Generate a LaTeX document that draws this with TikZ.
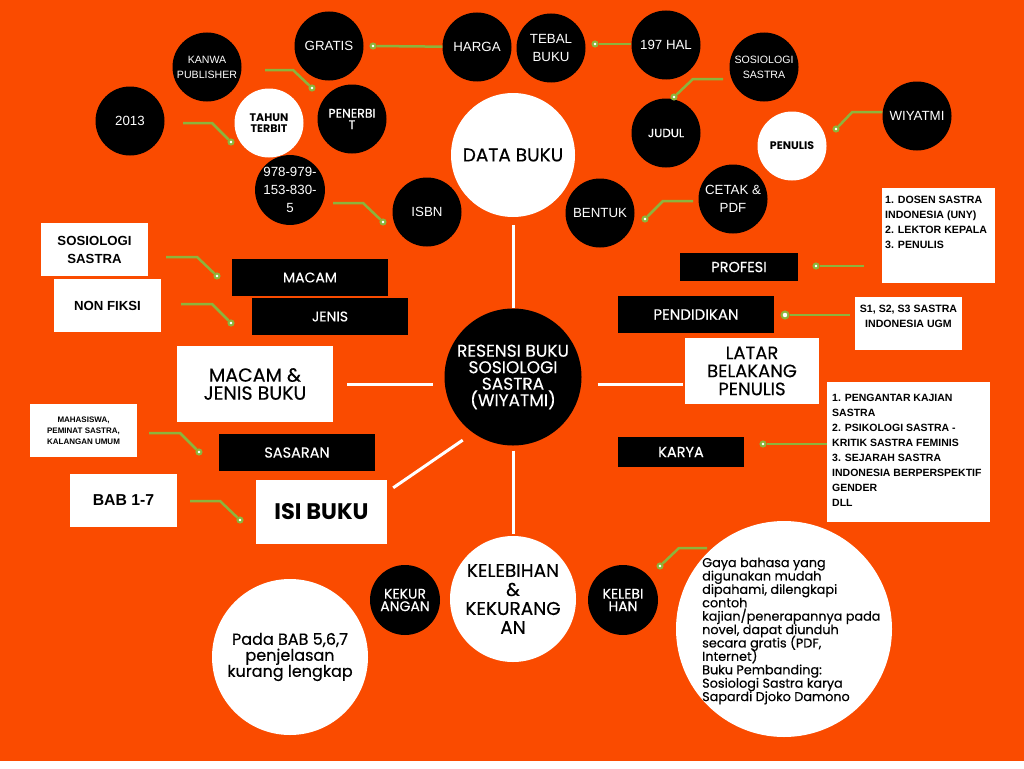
\documentclass[tikz,border=0pt]{standalone}
\usepackage{fontspec}
\newfontfamily\geo[FakeBold=0.35]{Poppins}
\newfontfamily\geob{Poppins}
\newfontfamily\ari{Liberation Sans}
\newcommand{\fsz}[2]{\fontsize{#1}{#2}\selectfont\lineskiplimit=-50pt}
\definecolor{bg}{RGB}{250,75,0}
\definecolor{leaf}{RGB}{140,180,60}

\begin{document}
\begin{tikzpicture}[
    x=1pt, y=-1pt,
    bc/.style={circle, fill=black, text=white, minimum size=69pt, inner sep=0pt, align=center},
    wc/.style={circle, fill=white, text=black, minimum size=69pt, inner sep=0pt, align=center},
    bb/.style={rectangle, fill=black, text=white, inner sep=0pt, align=center},
    wb/.style={rectangle, fill=white, text=black, inner sep=0pt, align=center},
    wire/.style={draw=leaf, line width=2.5pt},
    dot/.style={circle, draw=leaf, fill=white, line width=2pt, minimum size=5pt, inner sep=0pt},
    spoke/.style={draw=white, line width=3pt}
  ]
  \fill[white] (0,0) rectangle (1024,768);
  \fill[bg] (0,0) rectangle (1024,761);

  % centre and the four main topics
  \node[bc, minimum size=137pt, font=\geo\fsz{17}{16.5}] (R) at (513,377) {RESENSI BUKU\\SOSIOLOGI\\SASTRA\\(WIYATMI)};
  \node[wc, minimum size=124pt, font=\geo\fsz{18.5}{19}] (D) at (513,155) {DATA BUKU};
  \node[wc, minimum size=126pt, font=\geo\fsz{18.5}{19}] (KK) at (513,599) {KELEBIHAN\\\&\\KEKURANG\\AN};
  \node[wb, minimum width=156pt, minimum height=76pt, font=\geo\fsz{19}{18}] (MJ) at (255,384) {MACAM \&\\JENIS BUKU};
  \node[wb, minimum width=131pt, minimum height=64pt, font=\geob\bfseries\fsz{22.5}{22}] (IB) at (321.5,512) {ISI BUKU};
  \node[wb, minimum width=134pt, minimum height=66pt, font=\geo\fsz{18}{18}] (LB) at (752,371) {LATAR\\BELAKANG\\PENULIS};

  \draw[spoke] ([yshift=-8pt]D.south) -- (R.north);
  \draw[spoke] ([yshift=-5pt]R.south) -- ([yshift=2pt]KK.north);
  \draw[spoke] ([xshift=14pt]MJ.east) -- ++(86,0);
  \draw[spoke] ([shift={(16,7)}]R.east) -- ++(85,0);
  \draw[spoke] ([shift={(-8,9)}]R.232) -- ([shift={(6,8)}]IB.north east);

  % data buku
  \node[bc, font=\ari\fsz{13.3}{16}] (G) at (329,46) {GRATIS};
  \node[bc, font=\ari\fsz{13.3}{16}] (H) at (477,47) {HARGA};
  \node[bc, font=\ari\fsz{13.3}{18}] (TB) at (551,48) {TEBAL\\BUKU};
  \node[bc, font=\ari\fsz{13.3}{16}] (HL) at (666,45) {197 HAL};
  \node[bc, font=\ari\fsz{10.6}{15}] (KW) at (207,67) {KANWA\\PUBLISHER};
  \node[bc, font=\ari\fsz{13.3}{16}] (Y) at (130,121) {2013};
  \node[wc, font=\geob\bfseries\fsz{11}{11.5}] (TT) at (269,123) {TAHUN\\TERBIT};
  \node[bc, font=\geo\fsz{12.5}{11.5}] (PB) at (352,119) {PENERBI\\T};
  \node[bc, font=\ari\fsz{13.3}{18}] (NO) at (290,190) {978-979-\\153-830-\\5};
  \node[bc, font=\ari\fsz{13.3}{16}] (IS) at (427,212) {ISBN};
  \node[bc, font=\geo\fsz{12}{12}] (J) at (666,133) {JUDUL};
  \node[bc, font=\ari\fsz{10.6}{15}] (SJ) at (764,67) {SOSIOLOGI\\SASTRA};
  \node[wc, font=\geob\bfseries\fsz{11}{12}] (PN) at (792,146) {PENULIS};
  \node[bc, font=\ari\fsz{13.3}{16}] (W) at (917,116) {WIYATMI};
  \node[bc, font=\ari\fsz{13.3}{18}] (C) at (733,199) {CETAK \&\\PDF};
  \node[bc, font=\ari\fsz{13.3}{16}] (BT) at (600,213) {BENTUK};

  % macam, jenis, sasaran, isi
  \node[wb, minimum width=107pt, minimum height=53pt, font=\ari\bfseries\fsz{13.2}{18}] (SS) at (94.5,249.5) {SOSIOLOGI\\SASTRA};
  \node[wb, minimum width=107pt, minimum height=53pt, font=\ari\bfseries\fsz{13.2}{18}] (NF) at (107.5,305.5) {NON FIKSI};
  \node[bb, minimum width=156pt, minimum height=37pt, font=\geo\fsz{14}{15}] (MC) at (310,277.5) {MACAM};
  \node[bb, minimum width=156pt, minimum height=37pt, font=\geo\fsz{14}{15}] (JN) at (330,316.5) {JENIS};
  \node[wb, minimum width=107pt, minimum height=53pt, font=\ari\bfseries\fsz{8}{11}] (MH) at (83.5,430.5) {MAHASISWA,\\PEMINAT SASTRA,\\KALANGAN UMUM};
  \node[bb, minimum width=156pt, minimum height=37pt, font=\geo\fsz{14.5}{15}] (SR) at (297,452.5) {SASARAN};
  \node[wb, minimum width=107pt, minimum height=53pt, font=\ari\bfseries\fsz{15.8}{18}] (BB) at (123.5,500.5) {BAB 1-7};

  % latar belakang penulis
  \node[bb, minimum width=118pt, minimum height=28pt, font=\geo\fsz{14.5}{15}] (PF) at (739,267) {PROFESI};
  \node[bb, minimum width=156pt, minimum height=37pt, font=\geo\fsz{15}{15}] (PD) at (696,314.5) {PENDIDIKAN};
  \node[bb, minimum width=126pt, minimum height=30pt, font=\geo\fsz{14.5}{15}] (KR) at (681,452) {KARYA};
  \node[wb, minimum width=113pt, minimum height=95pt, anchor=north west] (PL) at (882,188) {};
  \node[anchor=north west, inner sep=0pt, align=left, font=\ari\bfseries\fsz{10.6}{15}] (PLt) at ([shift={(3,8)}]PL.north west) {1. DOSEN SASTRA\\INDONESIA (UNY)\\2. LEKTOR KEPALA\\3. PENULIS};
  \node[wb, minimum width=107pt, minimum height=53pt] (SL) at (908.5,323.5) {};
  \node[anchor=north, inner sep=0pt, align=center, font=\ari\bfseries\fsz{10.6}{15}] (SLt) at ([yshift=-8pt]SL.north) {S1, S2, S3 SASTRA\\INDONESIA UGM};
  \node[wb, minimum width=163pt, minimum height=140pt, anchor=north west] (KL) at (827,382) {};
  \node[anchor=north west, inner sep=0pt, align=left, font=\ari\bfseries\fsz{10.5}{15}] (KLt) at ([shift={(5,12)}]KL.north west) {1. PENGANTAR KAJIAN\\SASTRA\\2. PSIKOLOGI SASTRA -\\KRITIK SASTRA FEMINIS\\3. SEJARAH SASTRA\\INDONESIA BERPERSPEKTIF\\GENDER\\DLL};

  % kelebihan dan kekurangan
  \node[bc, minimum size=70pt, font=\geo\fsz{14}{12.5}] (KU) at (405,600) {KEKUR\\ANGAN};
  \node[bc, minimum size=70pt, font=\geo\fsz{14}{12.5}] (KB) at (623,600) {KELEBI\\HAN};
  \node[wc, minimum size=156pt, font=\geo\fsz{16}{16}] (P) at (290,657) {Pada BAB 5,6,7\\penjelasan\\kurang lengkap};
  \node[wc, minimum size=216pt] (GB) at (784,629) {};
  \node[anchor=west, inner sep=0pt, align=left, font=\geo\fsz{12.8}{13.4}] (GBt) at (702,631) {Gaya bahasa yang\\digunakan mudah\\dipahami, dilengkapi\\contoh\\kajian/penerapannya pada\\novel, dapat diunduh\\secara gratis (PDF,\\Internet)\\Buku Pembanding:\\Sosiologi Sastra karya\\Sapardi Djoko Damono};

  % green links
  \node[dot] (d1) at (373,46) {};
  \draw[wire] (d1) -- (H);
  \node[dot] (d2) at (595,44) {};
  \draw[wire] (d2) -- (d2 -| HL.west);
  \coordinate (w3) at (265,70);
  \node[dot] (d3) at (312,88) {};
  \draw[wire] (w3) -- ++(28,0) -- (d3);
  \coordinate (w4) at (183,123);
  \node[dot] (d4) at (231,142) {};
  \draw[wire] (w4) -- ++(29,0) -- (d4);
  \coordinate (w5) at (333,203);
  \node[dot] (d5) at (383,222) {};
  \draw[wire] (w5) -- ++(30,0) -- (d5);
  \coordinate (w6) at (723,79);
  \node[dot] (d6) at (674,97) {};
  \draw[wire] (w6) -- ++(-30,0) -- (d6);
  \node[dot] (d7) at (836,129) {};
  \draw[wire] (W.west |- 0,112) -- ++(-30,0) -- (d7);
  \coordinate (w8) at (693,201);
  \node[dot] (d8) at (645,219) {};
  \draw[wire] (w8) -- ++(-30,0) -- (d8);
  \coordinate (w9) at (864,266);
  \node[dot] (d9) at (816,266) {};
  \draw[wire] (w9) -- (d9);
  \coordinate (w10) at (850,315);
  \node[dot, minimum size=7pt] (d10) at (785,315) {};
  \draw[wire] (w10) -- (d10);
  \node[dot] (d11) at (763,444) {};
  \draw[wire] (KL.west |- d11) -- (d11);
  \coordinate (w12) at (166,257);
  \node[dot] (d12) at (217,276) {};
  \draw[wire] (w12) -- ++(31,0) -- (d12);
  \coordinate (w13) at (181,304);
  \node[dot] (d13) at (231,323) {};
  \draw[wire] (w13) -- ++(31,0) -- (d13);
  \coordinate (w14) at (149,433);
  \node[dot] (d14) at (199,452) {};
  \draw[wire] (w14) -- ++(31,0) -- (d14);
  \coordinate (w15) at (190,501);
  \node[dot] (d15) at (240,520) {};
  \draw[wire] (w15) -- ++(30,0) -- (d15);
  \coordinate (w16) at (707,548);
  \node[dot] (d16) at (660,566) {};
  \draw[wire] (w16) -- ++(-28,0) -- (d16);
\end{tikzpicture}
\end{document}
